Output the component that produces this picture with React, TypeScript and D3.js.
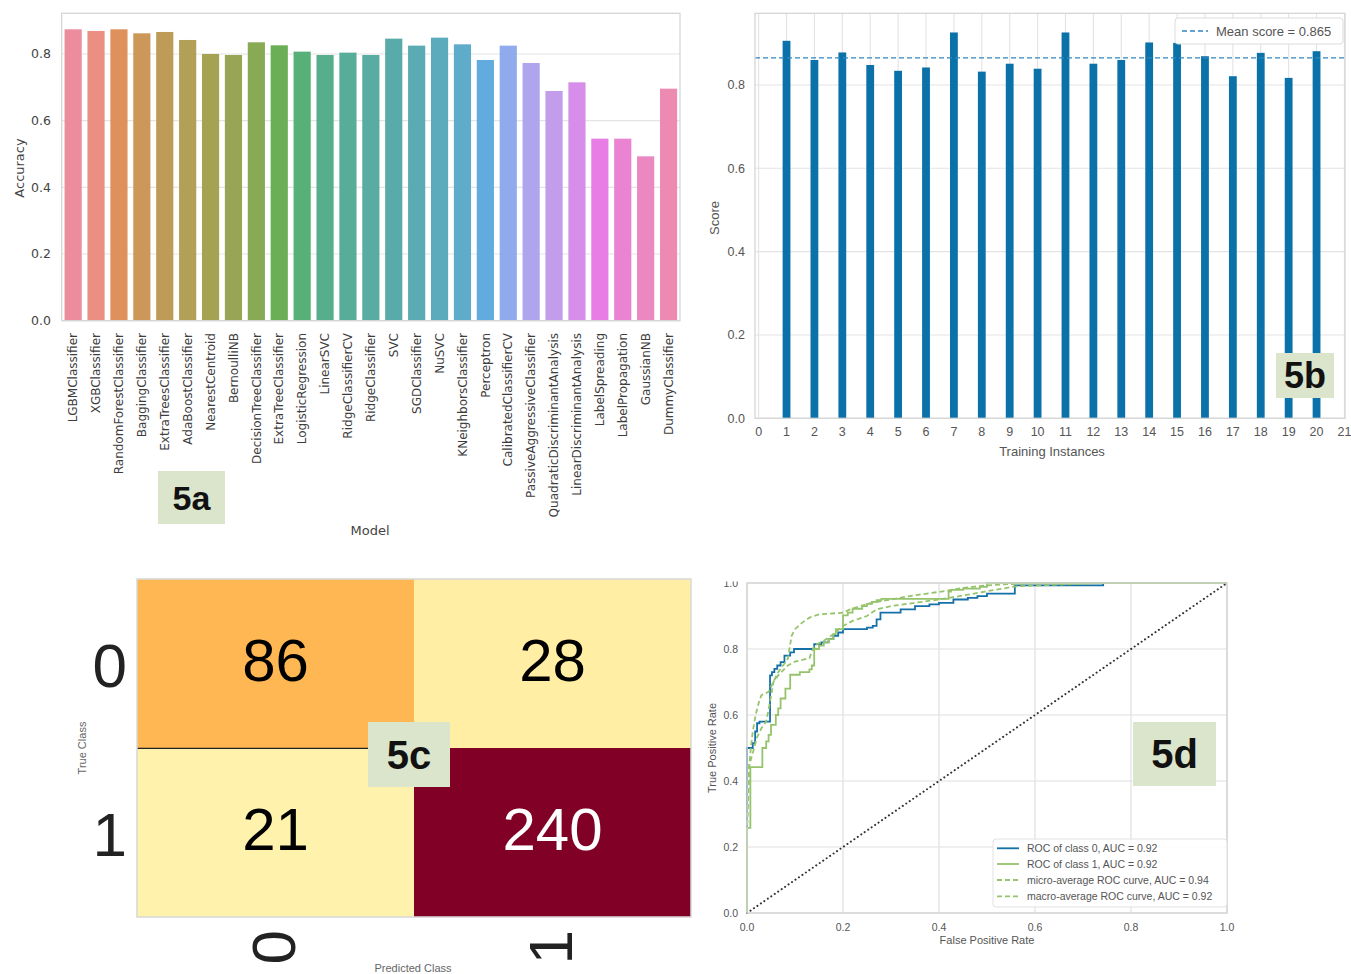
import React from "react";
import * as d3 from "d3";

// ---------- 5a: cross-validated accuracy per model ----------
const models = [
  "LGBMClassifier", "XGBClassifier", "RandomForestClassifier", "BaggingClassifier",
  "ExtraTreesClassifier", "AdaBoostClassifier", "NearestCentroid", "BernoulliNB",
  "DecisionTreeClassifier", "ExtraTreeClassifier", "LogisticRegression", "LinearSVC",
  "RidgeClassifierCV", "RidgeClassifier", "SVC", "SGDClassifier", "NuSVC",
  "KNeighborsClassifier", "Perceptron", "CalibratedClassifierCV",
  "PassiveAggressiveClassifier", "QuadraticDiscriminantAnalysis",
  "LinearDiscriminantAnalysis", "LabelSpreading", "LabelPropagation", "GaussianNB",
  "DummyClassifier",
];
const accuracy = [
  0.874, 0.869, 0.874, 0.862, 0.866, 0.842, 0.8, 0.797, 0.835, 0.826, 0.807, 0.797,
  0.804, 0.797, 0.846, 0.825, 0.849, 0.829, 0.782, 0.825, 0.773, 0.689, 0.715, 0.546,
  0.546, 0.493, 0.696,
];
const accuracyTicks = [0, 0.2, 0.4, 0.6, 0.8];

// ---------- 5b: cross-validation scores ----------
const trainingInstances = [1, 2, 3, 4, 5, 6, 7, 8, 9, 10, 11, 12, 13, 14, 15, 16, 17, 18, 19, 20];
const cvScores = [
  0.906, 0.86, 0.878, 0.848, 0.834, 0.842, 0.926, 0.832, 0.851, 0.839, 0.926, 0.851,
  0.86, 0.902, 0.901, 0.869, 0.821, 0.877, 0.817, 0.881,
];
const meanScore = 0.865;
const instanceTicks = [0, 1, 2, 3, 4, 5, 6, 7, 8, 9, 10, 11, 12, 13, 14, 15, 16, 17, 18, 19, 20, 21];
const scoreTicks = [0, 0.2, 0.4, 0.6, 0.8];

// ---------- 5c: confusion matrix ----------
const classLabels = ["0", "1"];
const confusion = [
  [86, 28],
  [21, 240],
];

// ---------- 5d: ROC curves ----------
const roc0Fpr = [0, 0, 0.012, 0.017, 0.021, 0.026, 0.048, 0.052, 0.057, 0.063, 0.07, 0.078, 0.09, 0.098, 0.14, 0.155, 0.17, 0.18, 0.19, 0.2, 0.25, 0.262, 0.27, 0.278, 0.32, 0.35, 0.38, 0.4, 0.43, 0.46, 0.48, 0.5, 0.558, 0.742, 1.0];
const roc0Tpr = [0, 0.5, 0.515, 0.55, 0.575, 0.58, 0.72, 0.73, 0.74, 0.75, 0.76, 0.78, 0.79, 0.8, 0.815, 0.82, 0.83, 0.84, 0.85, 0.86, 0.865, 0.87, 0.89, 0.91, 0.92, 0.93, 0.935, 0.94, 0.95, 0.955, 0.96, 0.968, 0.993, 1.0, 1.0];
const roc1Fpr = [0, 0, 0.007, 0.032, 0.04, 0.045, 0.05, 0.06, 0.065, 0.07, 0.08, 0.09, 0.11, 0.13, 0.135, 0.14, 0.15, 0.16, 0.17, 0.18, 0.185, 0.2, 0.21, 0.22, 0.24, 0.25, 0.26, 0.27, 0.28, 0.42, 0.425, 0.45, 0.485, 0.5, 1.0];
const roc1Tpr = [0, 0.258, 0.442, 0.5, 0.52, 0.54, 0.57, 0.6, 0.62, 0.65, 0.68, 0.722, 0.73, 0.738, 0.75, 0.8, 0.81, 0.82, 0.83, 0.845, 0.86, 0.902, 0.91, 0.922, 0.93, 0.937, 0.943, 0.948, 0.952, 0.974, 0.979, 0.983, 0.988, 1.0, 1.0];
const microFpr = [0, 0, 0.003, 0.008, 0.012, 0.018, 0.025, 0.03, 0.045, 0.055, 0.065, 0.075, 0.085, 0.093, 0.1, 0.115, 0.13, 0.15, 0.2, 0.215, 0.235, 0.26, 0.3, 0.33, 0.36, 0.4, 0.45, 0.5, 0.55, 0.62, 1.0];
const microTpr = [0, 0.24, 0.42, 0.5, 0.55, 0.6, 0.64, 0.66, 0.67, 0.7, 0.73, 0.75, 0.77, 0.84, 0.86, 0.88, 0.895, 0.905, 0.91, 0.92, 0.93, 0.94, 0.95, 0.958, 0.965, 0.973, 0.985, 0.993, 0.997, 1.0, 1.0];
const macroFpr = [0, 0, 0.005, 0.015, 0.02, 0.03, 0.04, 0.048, 0.055, 0.065, 0.075, 0.085, 0.1, 0.13, 0.14, 0.16, 0.18, 0.2, 0.22, 0.25, 0.27, 0.3, 0.35, 0.4, 0.45, 0.5, 0.56, 0.74, 1.0];
const macroTpr = [0, 0.25, 0.45, 0.5, 0.53, 0.56, 0.58, 0.64, 0.7, 0.72, 0.735, 0.75, 0.762, 0.772, 0.81, 0.825, 0.845, 0.87, 0.885, 0.9, 0.92, 0.93, 0.94, 0.95, 0.962, 0.975, 0.99, 1.0, 1.0];
const rateTicks = [0, 0.2, 0.4, 0.6, 0.8, 1.0];
const rocLegend = [
  "ROC of class 0, AUC = 0.92",
  "ROC of class 1, AUC = 0.92",
  "micro-average ROC curve, AUC = 0.94",
  "macro-average ROC curve, AUC = 0.92",
];

// ---------- HUSL colour space (as used by seaborn's husl palette) ----------
const HM = [
  [3.2406, -1.5372, -0.4986],
  [-0.9689, 1.8758, 0.0415],
  [0.0557, -0.204, 1.057],
];
const REF_U = 0.19784;
const REF_V = 0.46834;
const KAPPA = 903.3;
const EPS = 0.008856;

function maxChroma(L: number, H: number) {
  const hrad = (H / 360) * 2 * Math.PI;
  const sinH = Math.sin(hrad);
  const cosH = Math.cos(hrad);
  const sub1 = Math.pow(L + 16, 3) / 1560896;
  const sub2 = sub1 > EPS ? sub1 : L / KAPPA;
  let result = Infinity;
  for (const [m1, m2, m3] of HM) {
    const top = (0.99915 * m1 + 1.05122 * m2 + 1.1446 * m3) * sub2;
    const rbottom = 0.8633 * m3 - 0.17266 * m2;
    const lbottom = 0.12949 * m3 - 0.38848 * m1;
    const bottom = (rbottom * sinH + lbottom * cosH) * sub2;
    for (const t of [0, 1]) {
      const C = (L * (top - 1.05122 * t)) / (bottom + 0.17266 * sinH * t);
      if (C > 0 && C < result) result = C;
    }
  }
  return result;
}

function huslToRgb(h: number, s: number, l: number): [number, number, number] {
  if (l > 99.9999) return [1, 1, 1];
  if (l < 1e-8) return [0, 0, 0];
  const C = (maxChroma(l, h) / 100) * s;
  const hrad = (h / 360) * 2 * Math.PI;
  const U = Math.cos(hrad) * C;
  const V = Math.sin(hrad) * C;
  const Y = l > 8 ? Math.pow((l + 16) / 116, 3) : l / KAPPA;
  const varU = U / (13 * l) + REF_U;
  const varV = V / (13 * l) + REF_V;
  const X = -(9 * Y * varU) / ((varU - 4) * varV - varU * varV);
  const Z = (9 * Y - 15 * varV * Y - varV * X) / (3 * varV);
  const gamma = (c: number) =>
    c <= 0.0031308 ? 12.92 * c : 1.055 * Math.pow(c, 1 / 2.4) - 0.055;
  const out = HM.map((r) => Math.min(1, Math.max(0, gamma(r[0] * X + r[1] * Y + r[2] * Z))));
  return [out[0], out[1], out[2]];
}

// husl palette, desaturated and slightly lightened for the bars
const barColors = models.map((_, i) => {
  const h = (((i / models.length) + 0.01) % 1) * 359;
  const [r, g, b] = huslToRgb(h, 0.9 * 99, 0.65 * 99);
  const c = d3.hsl(d3.rgb(r * 255, g * 255, b * 255));
  c.s *= 0.8;
  return d3.interpolateRgb(c.formatHex(), "#ffffff")(0.12);
});

// matplotlib-like YlOrRd ramp
const ylOrRd = d3.piecewise(d3.interpolateRgb, [
  "#ffffcc", "#ffeda0", "#fed976", "#feb24c", "#fd8d3c", "#fc4e2a", "#e31a1c", "#bd0026", "#800026",
]);

const SANS = "'Liberation Sans', Arial, sans-serif";
const DEJAVU = "'DejaVu Sans', sans-serif";
const TAG_FONT = "'Liberation Sans Narrow', 'Liberation Sans', Arial, sans-serif";
const TAG_FILL = "#dbe5cc";

function Tag({ x, y, w, h, label, size }: { x: number; y: number; w: number; h: number; label: string; size: number }) {
  return (
    <g>
      <rect x={x} y={y} width={w} height={h} fill={TAG_FILL} />
      <text
        x={x + w / 2}
        y={y + h / 2}
        dy="0.36em"
        textAnchor="middle"
        fontFamily={TAG_FONT}
        fontWeight="bold"
        fontSize={size}
        fill="#111"
      >
        {label}
      </text>
    </g>
  );
}

function PanelA() {
  const left = 61.7, right = 680, top = 13.3, bottom = 320.7;
  const x = d3.scaleBand<string>().domain(models).range([left, right]).paddingInner(0.25).paddingOuter(0.125);
  const y = d3.scaleLinear().domain([0, 0.922]).range([bottom, top]);
  return (
    <g fontFamily={DEJAVU}>
      {accuracyTicks.map((t) => (
        <line key={t} x1={left} x2={right} y1={y(t)} y2={y(t)} stroke="#e4e4e4" strokeWidth={1.2} />
      ))}
      {models.map((m, i) => (
        <rect
          key={m}
          x={x(m)}
          y={y(accuracy[i])}
          width={x.bandwidth()}
          height={y(0) - y(accuracy[i])}
          fill={barColors[i]}
        />
      ))}
      <rect x={left} y={top} width={right - left} height={bottom - top} fill="none" stroke="#d6d6d6" strokeWidth={1.3} />
      {accuracyTicks.map((t) => (
        <text key={t} x={51} y={y(t)} dy="0.35em" textAnchor="end" fontSize={12.5} fill="#444">
          {t.toFixed(1)}
        </text>
      ))}
      {models.map((m) => (
        <text
          key={m}
          transform={`translate(${(x(m) as number) + x.bandwidth() / 2},333) rotate(-90)`}
          dy="0.35em"
          textAnchor="end"
          fontSize={12}
          fill="#3d3d3d"
        >
          {m}
        </text>
      ))}
      <text transform="translate(19,168) rotate(-90)" dy="0.35em" textAnchor="middle" fontSize={13} fill="#444">
        Accuracy
      </text>
      <text x={370} y={535} textAnchor="middle" fontSize={13} fill="#444">
        Model
      </text>
      <Tag x={158} y={471} w={67} h={53} label="5a" size={34} />
    </g>
  );
}

function PanelB() {
  const left = 755, right = 1345, top = 13.3, bottom = 418.3;
  const x = d3.scaleLinear().domain([-0.13, 21.02]).range([left, right]);
  const y = d3.scaleLinear().domain([0, 0.972]).range([bottom, top]);
  const barW = x(0.28) - x(0);
  return (
    <g fontFamily={SANS}>
      {instanceTicks.map((t) => (
        <line key={"v" + t} x1={x(t)} x2={x(t)} y1={top} y2={bottom} stroke="#e3e3e3" strokeWidth={1.1} />
      ))}
      {scoreTicks.map((t) => (
        <line key={"h" + t} x1={left} x2={right} y1={y(t)} y2={y(t)} stroke="#e3e3e3" strokeWidth={1.1} />
      ))}
      {trainingInstances.map((n, i) => (
        <rect key={n} x={x(n) - barW / 2} y={y(cvScores[i])} width={barW} height={y(0) - y(cvScores[i])} fill="#0b71a9" />
      ))}
      <line x1={left} x2={right} y1={y(meanScore)} y2={y(meanScore)} stroke="#2f87c0" strokeWidth={1.3} strokeDasharray="5,3" />
      <rect x={left} y={top} width={right - left} height={bottom - top} fill="none" stroke="#d6d6d6" strokeWidth={1.3} />
      {scoreTicks.map((t) => (
        <text key={t} x={745} y={y(t)} dy="0.35em" textAnchor="end" fontSize={12.5} fill="#555">
          {t.toFixed(1)}
        </text>
      ))}
      {instanceTicks.map((t) => (
        <text key={t} x={x(t)} y={436} textAnchor="middle" fontSize={12.5} fill="#555">
          {t}
        </text>
      ))}
      <text transform="translate(714.5,218) rotate(-90)" dy="0.35em" textAnchor="middle" fontSize={13} fill="#555">
        Score
      </text>
      <text x={1052} y={456} textAnchor="middle" fontSize={13} fill="#555">
        Training Instances
      </text>
      <g>
        <rect x={1175} y={18} width={168} height={26} rx={3} fill="#fff" fillOpacity={0.9} stroke="#dcdcdc" />
        <line x1={1182} x2={1208} y1={31} y2={31} stroke="#2f87c0" strokeWidth={1.3} strokeDasharray="5,3" />
        <text x={1216} y={35.5} fontSize={13} fill="#555">
          Mean score = {meanScore.toFixed(3)}
        </text>
      </g>
      <Tag x={1276} y={353} w={58} h={45} label="5b" size={36} />
    </g>
  );
}

function PanelC() {
  const x = d3.scaleBand<string>().domain(classLabels).range([137, 691]);
  const y = d3.scaleBand<string>().domain(classLabels).range([579, 917]);
  const maxVal = d3.max(confusion.flat()) as number;
  const color = d3.scaleSequential(ylOrRd).domain([0, maxVal]);
  return (
    <g fontFamily={SANS}>
      {confusion.map((row, r) =>
        row.map((v, c) => (
          <rect
            key={r + "-" + c}
            x={x(classLabels[c])}
            y={y(classLabels[r])}
            width={x.bandwidth()}
            height={y.bandwidth()}
            fill={color(v)}
          />
        ))
      )}
      <line x1={137} x2={413} y1={748.3} y2={748.3} stroke="#222" strokeWidth={1.2} />
      <rect x={137} y={579} width={554} height={338} fill="none" stroke="#d8d8d8" strokeWidth={1.5} />
      {confusion.map((row, r) =>
        row.map((v, c) => (
          <text
            key={"t" + r + "-" + c}
            x={(x(classLabels[c]) as number) + x.bandwidth() / 2}
            y={(y(classLabels[r]) as number) + y.bandwidth() / 2 + 17}
            textAnchor="middle"
            fontSize={60}
            fill={v > maxVal / 2 ? "#fff" : "#000"}
          >
            {v}
          </text>
        ))
      )}
      {classLabels.map((l) => (
        <text key={"y" + l} x={127} y={(y(l) as number) + y.bandwidth() / 2 + 23} textAnchor="end" fontSize={62} fill="#222">
          {l}
        </text>
      ))}
      {classLabels.map((l) => (
        <text
          key={"x" + l}
          transform={`translate(${(x(l) as number) + x.bandwidth() / 2 + 19},930) rotate(-90)`}
          textAnchor="end"
          fontSize={62}
          fill="#222"
        >
          {l}
        </text>
      ))}
      <text transform="translate(82,748) rotate(-90)" dy="0.35em" textAnchor="middle" fontSize={11} fill="#666">
        True Class
      </text>
      <text x={413} y={972} textAnchor="middle" fontSize={11} fill="#666">
        Predicted Class
      </text>
      <Tag x={368} y={722} w={82} h={65} label="5c" size={40} />
    </g>
  );
}

function PanelD() {
  const left = 747, right = 1227, top = 583, bottom = 913;
  const x = d3.scaleLinear().domain([0, 1]).range([left, right]);
  const y = d3.scaleLinear().domain([0, 1]).range([bottom, top]);
  const step = d3.line<[number, number]>().x((d) => x(d[0])).y((d) => y(d[1])).curve(d3.curveStepAfter);
  const lin = d3.line<[number, number]>().x((d) => x(d[0])).y((d) => y(d[1]));
  const pts = (fx: number[], ty: number[]) => fx.map((f, i) => [f, ty[i]] as [number, number]);
  const blue = "#1570a8";
  const green = "#95c46c";
  const legendY = [848.3, 864, 880, 896.3];
  const legendStyles = [
    { stroke: blue, dash: undefined },
    { stroke: green, dash: undefined },
    { stroke: green, dash: "5,3" },
    { stroke: green, dash: "5,3" },
  ];
  return (
    <g fontFamily={SANS}>
      <defs>
        <clipPath id="clip-roc">
          <rect x={690} y={581.5} width={661} height={400} />
        </clipPath>
      </defs>
      <g clipPath="url(#clip-roc)">
        {rateTicks.map((t) => (
          <g key={t}>
            <line x1={x(t)} x2={x(t)} y1={top} y2={bottom} stroke="#e0e0e0" strokeWidth={1.2} />
            <line x1={left} x2={right} y1={y(t)} y2={y(t)} stroke="#e0e0e0" strokeWidth={1.2} />
          </g>
        ))}
        <path d={step(pts(roc0Fpr, roc0Tpr)) as string} fill="none" stroke={blue} strokeWidth={1.8} />
        <path d={step(pts(roc1Fpr, roc1Tpr)) as string} fill="none" stroke={green} strokeWidth={1.8} />
        <path d={lin(pts(microFpr, microTpr)) as string} fill="none" stroke={green} strokeWidth={1.8} strokeDasharray="5,3" />
        <path d={lin(pts(macroFpr, macroTpr)) as string} fill="none" stroke={green} strokeWidth={1.8} strokeDasharray="5,3" />
        <line x1={x(0)} y1={y(0)} x2={x(1)} y2={y(1)} stroke="#333" strokeWidth={2} strokeDasharray="0.1,4.1" strokeLinecap="round" />
        <rect x={left} y={top} width={right - left} height={bottom - top} fill="none" stroke="#d4d4d4" strokeWidth={1.4} />
        {rateTicks.map((t) => (
          <text key={"yl" + t} x={738} y={y(t)} dy="0.35em" textAnchor="end" fontSize={10.5} fill="#555">
            {t.toFixed(1)}
          </text>
        ))}
      </g>
      {rateTicks.map((t) => (
        <text key={"xl" + t} x={x(t)} y={930.5} textAnchor="middle" fontSize={10.5} fill="#555">
          {t.toFixed(1)}
        </text>
      ))}
      <text transform="translate(712,748) rotate(-90)" dy="0.35em" textAnchor="middle" fontSize={11} fill="#555">
        True Positive Rate
      </text>
      <text x={987} y={944} textAnchor="middle" fontSize={11} fill="#555">
        False Positive Rate
      </text>
      <rect x={993} y={839} width={234} height={68} rx={3} fill="#fff" fillOpacity={0.85} stroke="#e2e2e2" />
      {rocLegend.map((label, i) => (
        <g key={label}>
          <line
            x1={997}
            x2={1019}
            y1={legendY[i]}
            y2={legendY[i]}
            stroke={legendStyles[i].stroke}
            strokeWidth={1.8}
            strokeDasharray={legendStyles[i].dash}
          />
          <text x={1027} y={legendY[i]} dy="0.35em" fontSize={10.5} fill="#555">
            {label}
          </text>
        </g>
      ))}
      <Tag x={1133} y={722} w={83} h={64} label="5d" size={40} />
    </g>
  );
}

export default function App() {
  return (
    <svg
      width={1351}
      height={974}
      viewBox="0 0 1351 974"
      style={{ position: "absolute", left: 0, top: 0, display: "block" }}
    >
      <rect x={0} y={0} width={1351} height={974} fill="#fff" />
      <PanelA />
      <PanelB />
      <PanelC />
      <PanelD />
    </svg>
  );
}
